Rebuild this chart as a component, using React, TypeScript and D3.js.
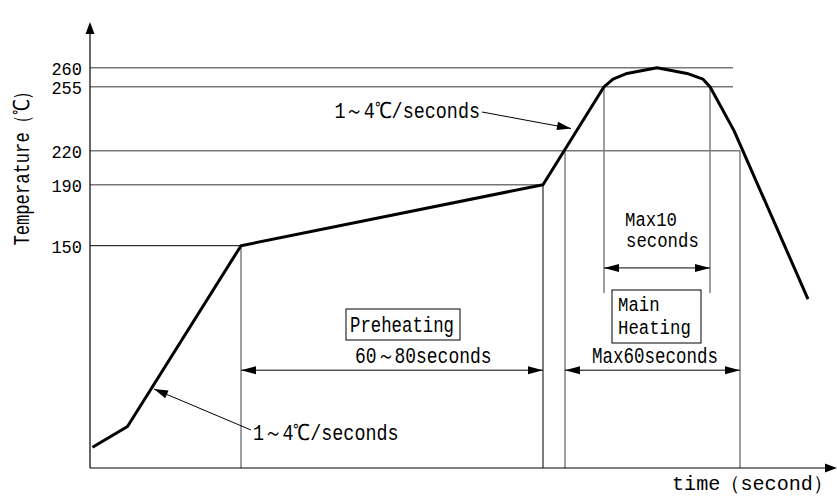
import React from 'react';
import * as d3 from 'd3';

// reflow profile (schematic time units, °C)
const profileTime = [1, 15, 60.4, 181.2, 205.6, 209.2, 214.8, 226.8, 238.8, 245.2, 248, 257.6, 287.2];
const profileTemp = [14, 28, 150, 190, 255, 257, 258.5, 260, 258.5, 257, 255, 231, 114];

// the temperature axis is drawn schematically, not to scale
const tempBreaks = [0, 150, 190, 220, 255, 260];
const tempTicks = [150, 190, 220, 255, 260];

// horizontal guides: temperature and the time they run to
const hGuideTemps = [260, 255, 220, 190, 150];
const hGuideEnds = [257.2, 257.2, 260, 181.2, 60.4];

// vertical guides: time, top temperature, bottom temperature
const vGuideTimes = [60.4, 181.2, 190, 205.6, 248, 260];
const vGuideTops = [150, 190, 220, 255, 255, 220];
const vGuideBottoms = [0, 0, 0, 118, 118, 0];

// dimension arrows: start time, end time, temperature level
const spanStarts = [60.4, 190, 205.6];
const spanEnds = [181.2, 260, 248];
const spanLevels = [66, 66, 135];

const W = 837;
const H = 500;
const FONT = "'Liberation Mono', 'DejaVu Sans Mono', monospace";
const GRAY = '#777';

const x = d3.scaleLinear().domain([0, 300]).range([90, 840]);
const y = d3.scaleLinear().domain(tempBreaks).range([468, 245.7, 184.7, 150.7, 86.8, 67.7]);

// half-width units (full-width glyphs count 2)
const units = (s: string) =>
  Array.from(s).reduce((n, c) => n + (c.charCodeAt(0) > 0x2000 ? 2 : 1), 0);

const Label = ({ x: tx, y: ty, text, anchor = 'start', unit = 10.4, size = 21, rotate = 0 }: any) => (
  <text
    x={rotate ? 0 : tx}
    y={rotate ? 0 : ty}
    transform={rotate ? `translate(${tx},${ty}) rotate(${rotate})` : undefined}
    textAnchor={anchor}
    fontFamily={FONT}
    fontSize={size}
    fill="#000"
    textLength={units(text) * unit}
    lengthAdjust="spacingAndGlyphs"
  >
    {text}
  </text>
);

// filled arrowhead with its tip at (x2,y2), pointing away from (x1,y1)
const head = (x1: number, y1: number, x2: number, y2: number, len = 14, hw = 4.2) => {
  const a = Math.atan2(y2 - y1, x2 - x1);
  const bx = x2 - len * Math.cos(a);
  const by = y2 - len * Math.sin(a);
  const px = -Math.sin(a) * hw;
  const py = Math.cos(a) * hw;
  return `M${x2},${y2}L${bx + px},${by + py}L${bx - px},${by - py}Z`;
};

const Leader = ({ x1, y1, x2, y2 }: any) => (
  <g>
    <line x1={x1} y1={y1} x2={x2} y2={y2} stroke="#000" strokeWidth={1} />
    <path d={head(x1, y1, x2, y2)} fill="#000" />
  </g>
);

export default function App() {
  const pts: [number, number][] = profileTime.map((t, i) => [x(t), y(profileTemp[i])]);
  const line = d3.line().curve(d3.curveLinear)(pts) || '';

  return (
    <svg width={W} height={H} style={{ position: 'fixed', left: 0, top: 0, background: '#fff' }}>
      {/* guides */}
      {hGuideTemps.map((t, i) => (
        <line key={'h' + t} x1={x(0)} x2={x(hGuideEnds[i])} y1={y(t)} y2={y(t)}
          stroke={t === 150 ? '#000' : GRAY} strokeWidth={t === 150 ? 1 : 1.4} />
      ))}
      {vGuideTimes.map((t, i) => (
        <line key={'v' + t} x1={x(t)} x2={x(t)} y1={y(vGuideTops[i])} y2={y(vGuideBottoms[i])}
          stroke={t === 181.2 ? '#000' : GRAY} strokeWidth={t === 181.2 ? 1 : 1.4} />
      ))}

      {/* axes */}
      <line x1={x(0)} y1={y(0)} x2={x(0)} y2={24} stroke="#000" strokeWidth={1.2} />
      <path d={head(x(0), 100, x(0), 22, 12, 4.5)} fill="#000" />
      <line x1={x(0)} y1={y(0)} x2={835} y2={y(0)} stroke="#000" strokeWidth={1.2} />
      <path d={head(700, y(0), 837, y(0), 12, 4.5)} fill="#000" />

      {/* tick labels */}
      {tempTicks.map(t => (
        <Label key={'t' + t} x={82} y={y(t) + 7} text={String(t)} anchor="end" size={19} unit={10.2} />
      ))}
      <Label x={29} y={164} text="Temperature（℃）" anchor="middle" unit={9.6} size={22} rotate={-90} />
      <Label x={833} y={490} text="time（second）" anchor="end" unit={11.5} size={20} />

      {/* profile */}
      <path d={line} fill="none" stroke="#000" strokeWidth={3} strokeLinejoin="round" />

      {/* dimension arrows */}
      {spanStarts.map((s, i) => {
        const x1 = x(s);
        const x2 = x(spanEnds[i]);
        const yy = y(spanLevels[i]);
        return (
          <g key={'s' + i}>
            <line x1={x1} x2={x2} y1={yy} y2={yy} stroke="#000" strokeWidth={1} />
            <path d={head(x2, yy, x1, yy, 15, 4)} fill="#000" />
            <path d={head(x1, yy, x2, yy, 15, 4)} fill="#000" />
          </g>
        );
      })}

      {/* slope annotations */}
      <Label x={480} y={118} text="1～4℃/seconds" anchor="end" size={22} />
      <Leader x1={482} y1={112} x2={571} y2={128.5} />
      <Label x={253} y={440} text="1～4℃/seconds" size={22} />
      <Leader x1={251} y1={430} x2={154} y2={389} />

      {/* zone labels */}
      <Label x={625} y={226} text="Max10" size={20} />
      <Label x={626} y={247} text="seconds" size={20} />

      <rect x={346} y={309} width={114} height={31} fill="#fff" stroke="#000" strokeWidth={1} />
      <Label x={350} y={332} text="Preheating" size={22} />
      <Label x={355} y={363} text="60～80seconds" unit={10.5} size={22} />

      <rect x={612} y={290} width={89} height={53} fill="#fff" stroke="#000" strokeWidth={1} />
      <Label x={618} y={311} text="Main" size={20} />
      <Label x={618} y={334} text="Heating" size={20} />
      <Label x={592} y={363} text="Max60seconds" unit={10.5} size={22} />
    </svg>
  );
}
